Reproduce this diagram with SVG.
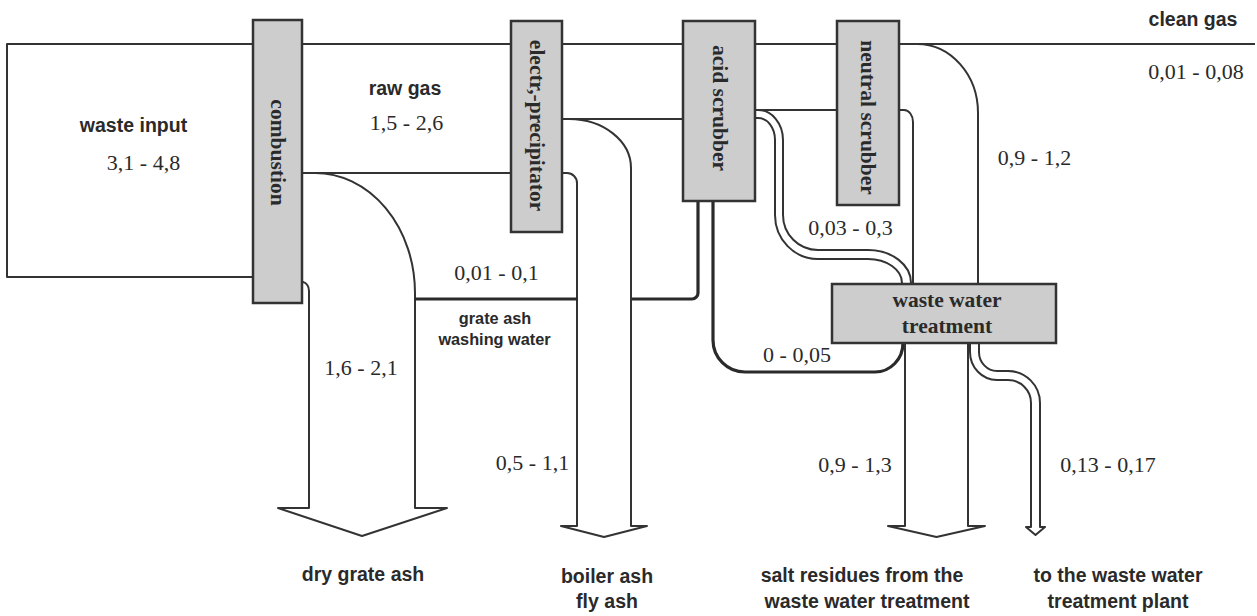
<svg xmlns="http://www.w3.org/2000/svg" width="1257" height="616" viewBox="0 0 1257 616">
<style>
.ln{fill:none;stroke:#333;stroke-width:2;stroke-linejoin:round}
.th{fill:none;stroke:#2a2a2a;stroke-width:3.2;stroke-linejoin:round}
.box{fill:#cdcdcd;stroke:#333;stroke-width:2.5}
.bl{font-family:"Liberation Serif","Times New Roman",serif;font-weight:bold;font-size:21.5px;fill:#2a2a2a;text-anchor:middle}
.lb{font-family:"Liberation Sans",Arial,sans-serif;font-weight:bold;font-size:19.5px;fill:#2a2a2a;text-anchor:middle}
.sm{font-family:"Liberation Sans",Arial,sans-serif;font-weight:bold;font-size:16.3px;fill:#2a2a2a;text-anchor:middle}
.num{font-family:"Liberation Serif","Times New Roman",serif;font-size:22px;fill:#2a2a2a;text-anchor:middle}
</style>
<rect width="1257" height="616" fill="#ffffff"/>
<g id="connectors">
<path class="ln" d="M253,44 H7 V277 H253"/>
<path class="ln" d="M302,44 H511"/>
<path class="ln" d="M302,173 H511"/>
<path class="ln" d="M562,44 H683"/>
<path class="ln" d="M562,119 H683"/>
<path class="ln" d="M755,44 H837"/>
<path class="ln" d="M755,110 H837"/>
<path class="ln" d="M899,44 H1255"/>
<path class="ln" d="M302,282 H303 A7,9 0 0 1 309,291 V508 H278 L362,536 L447,508 H415 V293 A100,120 0 0 0 315,173"/>
<path class="ln" d="M562,173 H567 A10,10 0 0 1 577,183 V526 H561 L604,537 L647,526 H631 V168 A62,49 0 0 0 569,119"/>
<path class="th" d="M415,299 H578"/>
<path class="th" d="M632,299 H692 A6,6 0 0 0 698,293 V201"/>
<path class="th" d="M713,201 V340 A32,32 0 0 0 745,372 H875 A28,29 0 0 0 903,343"/>
<path class="ln" d="M755,110 H758 A25,30 0 0 1 783,140 V215 A35,35 0 0 0 818,250 H868 A43,33 0 0 1 911,283"/>
<path class="ln" d="M755,118 H758 A17,22 0 0 1 775,140 V215 A43,44 0 0 0 818,259 H868 A34,24 0 0 1 902,283"/>
<path class="ln" d="M917,44 A61,69 0 0 1 978,113 V284"/>
<path class="ln" d="M899,110 H904 A9,12 0 0 1 913,122 V284"/>
<path class="ln" d="M905,343 V526 H888 L936.5,537 L985,526 H968 V343"/>
<path class="ln" d="M970,343 V352 A27,28 0 0 0 997,380 H1008 A23,23 0 0 1 1031,403 V527 H1026 L1035.5,535 L1045,527 H1040 V403 A32,32 0 0 0 1008,371 H997 A18,19 0 0 1 979,352 V343"/>
</g>
<g id="combustion">
<rect class="box" x="253" y="20" width="49" height="283"/>
<text class="bl" transform="translate(278,152.5) rotate(90)" y="7">combustion</text>
</g>
<g id="electr-precipitator">
<rect class="box" x="511" y="21" width="51" height="211"/>
<text class="bl" transform="translate(537,125.5) rotate(90)" y="7">electr,-precipitator</text>
</g>
<g id="acid-scrubber">
<rect class="box" x="683" y="21" width="72" height="180"/>
<text class="bl" transform="translate(720,108) rotate(90)" y="7">acid scrubber</text>
</g>
<g id="neutral-scrubber">
<rect class="box" x="837" y="21" width="62" height="184"/>
<text class="bl" transform="translate(868,117.5) rotate(90)" y="7">neutral scrubber</text>
</g>
<g id="waste-water-treatment">
<rect class="box" x="832" y="284" width="224" height="59"/>
<text class="bl" x="947" y="307">waste water</text>
<text class="bl" x="947" y="333">treatment</text>
</g>
<g id="labels">
<text class="lb" x="133.5" y="132">waste input</text>
<text class="num" x="143.5" y="170">3,1 - 4,8</text>
<text class="lb" x="405" y="95">raw gas</text>
<text class="num" x="406.5" y="130">1,5 - 2,6</text>
<text class="lb" x="1193" y="26">clean gas</text>
<text class="num" x="1196" y="79">0,01 - 0,08</text>
<text class="num" x="1034.5" y="165">0,9 - 1,2</text>
<text class="num" x="850.5" y="235">0,03 - 0,3</text>
<text class="num" x="496.5" y="280">0,01 - 0,1</text>
<text class="sm" x="495" y="324">grate ash</text>
<text class="sm" x="494.5" y="345">washing water</text>
<text class="num" x="361" y="375">1,6 - 2,1</text>
<text class="num" x="532.5" y="470">0,5 - 1,1</text>
<text class="num" x="797" y="362">0 - 0,05</text>
<text class="num" x="855" y="472">0,9 - 1,3</text>
<text class="num" x="1108" y="472">0,13 - 0,17</text>
<text class="lb" x="363" y="581">dry grate ash</text>
<text class="lb" x="607" y="583">boiler ash</text>
<text class="lb" x="607" y="608">fly ash</text>
<text class="lb" x="862" y="582">salt residues from the</text>
<text class="lb" x="867" y="608">waste water treatment</text>
<text class="lb" x="1118" y="582">to the waste water</text>
<text class="lb" x="1118" y="608">treatment plant</text>
</g>
</svg>
